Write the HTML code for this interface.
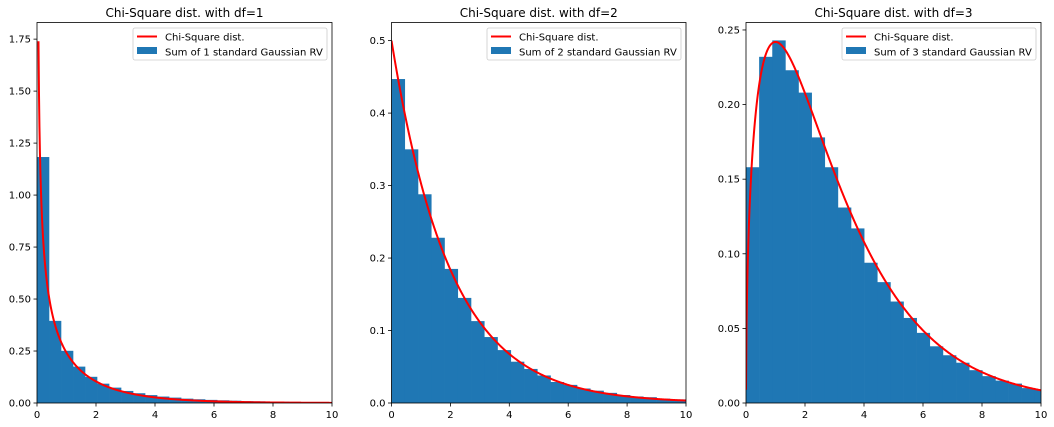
<!DOCTYPE html>
<html><head><meta charset="utf-8"><style>
html,body{margin:0;padding:0;background:#fff;}
svg{display:block;font-family:"DejaVu Sans","Liberation Sans",sans-serif;}
</style></head><body>
<svg id="fig" width="1054" height="427" viewBox="0 0 1054 427" xmlns="http://www.w3.org/2000/svg"></svg>
<script>
const dfs = [1, 2, 3];
const binWidths = [0.407, 0.45, 0.445];
const hist1 = [1.183,0.395,0.251,0.175,0.126,0.093,0.074,0.058,0.047,0.038,0.031,0.026,0.021,0.018,0.015,0.013,0.011,0.009,0.008,0.007,0.006,0.005,0.004,0.004,0.003];
const hist2 = [0.447,0.350,0.288,0.228,0.185,0.145,0.113,0.091,0.073,0.057,0.047,0.038,0.029,0.025,0.020,0.017,0.014,0.011,0.009,0.008,0.006,0.005,0.005];
const hist3 = [0.158,0.232,0.243,0.223,0.208,0.178,0.158,0.131,0.117,0.094,0.081,0.068,0.057,0.047,0.038,0.032,0.027,0.022,0.018,0.015,0.013,0.010,0.009];
const curveStarts = [0.05, 0.0005, 0.0005];
const yMaxes = [1.83, 0.525, 0.255];
const yTicks1 = [0,0.25,0.5,0.75,1.0,1.25,1.5,1.75];
const yTicks2 = [0,0.1,0.2,0.3,0.4,0.5];
const yTicks3 = [0,0.05,0.1,0.15,0.2,0.25];
const yTickLabels1 = ["0.00","0.25","0.50","0.75","1.00","1.25","1.50","1.75"];
const yTickLabels2 = ["0.0","0.1","0.2","0.3","0.4","0.5"];
const yTickLabels3 = ["0.00","0.05","0.10","0.15","0.20","0.25"];
const xTicks = [0,2,4,6,8,10];

const NS="http://www.w3.org/2000/svg";
const svg=document.getElementById('fig');
function mk(tag,attrs,parent){const e=document.createElementNS(NS,tag);for(const k in attrs)e.setAttribute(k,attrs[k]);(parent||svg).appendChild(e);return e;}
function gammaHalf(k){
  if(k===1) return Math.sqrt(Math.PI);
  if(k===2) return 1;
  return (k/2-1)*gammaHalf(k-2);
}
function pdf(x,k){return Math.pow(x,k/2-1)*Math.exp(-x/2)/(Math.pow(2,k/2)*gammaHalf(k));}

const panels=[{x0:37,x1:332},{x0:391.5,x1:686},{x0:746,x1:1041}];
const hists=[hist1,hist2,hist3];
const yTicksAll=[yTicks1,yTicks2,yTicks3];
const yLabsAll=[yTickLabels1,yTickLabels2,yTickLabels3];
const topY=22.5,bottomY=403;

panels.forEach((p,i)=>{
  const g=mk('g',{});
  
  
  const cid='clip'+i;
  const cp=mk('clipPath',{id:cid},g);mk('rect',{x:p.x0,y:topY,width:p.x1-p.x0,height:bottomY-topY},cp);
  const xs=v=>p.x0+(p.x1-p.x0)*v/10;
  const ys=v=>bottomY-(bottomY-topY)*v/yMaxes[i];
  const bars=mk('g',{'clip-path':'url(#'+cid+')'},g);
  hists[i].forEach((h,j)=>{
    const a=xs(j*binWidths[i]),b=xs((j+1)*binWidths[i]);
    const r=mk('rect',{x:a,y:ys(h),width:b-a+0.3,height:bottomY-ys(h),fill:'#1f77b4'},bars);
    
    
  });
  let d='';
  const s=curveStarts[i];
  for(let n=0;n<=600;n++){const x=s+n*(10-s)/600;d+=(n?'L':'M')+xs(x).toFixed(2)+','+ys(pdf(x,dfs[i])).toFixed(2);}
  const line=mk('path',{d:d,fill:'none',stroke:'#ff0000','stroke-width':2,'clip-path':'url(#'+cid+')'},g);
  
  
  const fr=mk('rect',{x:p.x0,y:topY,width:p.x1-p.x0,height:bottomY-topY,fill:'none',stroke:'#000','stroke-width':0.8},g);
  
  
  xTicks.forEach(t=>{
    mk('line',{x1:xs(t),x2:xs(t),y1:bottomY,y2:bottomY+3.5,stroke:'#000','stroke-width':0.8},g);
    const tx=mk('text',{x:xs(t),y:bottomY+15,'font-size':10,'text-anchor':'middle',fill:'#000'},g);tx.textContent=t;
    
    
  });
  yTicksAll[i].forEach((t,j)=>{
    mk('line',{x1:p.x0-3.5,x2:p.x0,y1:ys(t),y2:ys(t),stroke:'#000','stroke-width':0.8},g);
    const tx=mk('text',{x:p.x0-6,y:ys(t)+3.5,'font-size':10,'text-anchor':'end',fill:'#000'},g);tx.textContent=yLabsAll[i][j];
    
    
  });
  const title=mk('text',{x:(p.x0+p.x1)/2,y:17,'font-size':12,'text-anchor':'middle',fill:'#000'},g);
  title.textContent='Chi-Square dist. with df='+dfs[i];
  
  
  const lx=p.x1-5-194, ly=28;
  const lg=mk('g',{},g);
  
  
  mk('rect',{x:lx,y:ly,width:194,height:32,rx:2,fill:'#fff','fill-opacity':0.8,stroke:'#ccc','stroke-width':0.8},lg);
  mk('line',{x1:lx+4,x2:lx+24,y1:ly+8.5,y2:ly+8.5,stroke:'#ff0000','stroke-width':2},lg);
  const t1=mk('text',{x:lx+32,y:ly+12.5,'font-size':10,fill:'#000'},lg);t1.textContent='Chi-Square dist.';
  
  
  mk('rect',{x:lx+4,y:ly+19,width:20,height:7,fill:'#1f77b4'},lg);
  const t2=mk('text',{x:lx+32,y:ly+27.5,'font-size':10,fill:'#000'},lg);t2.textContent='Sum of '+dfs[i]+' standard Gaussian RV';
  
  
});
</script>
</body></html>
